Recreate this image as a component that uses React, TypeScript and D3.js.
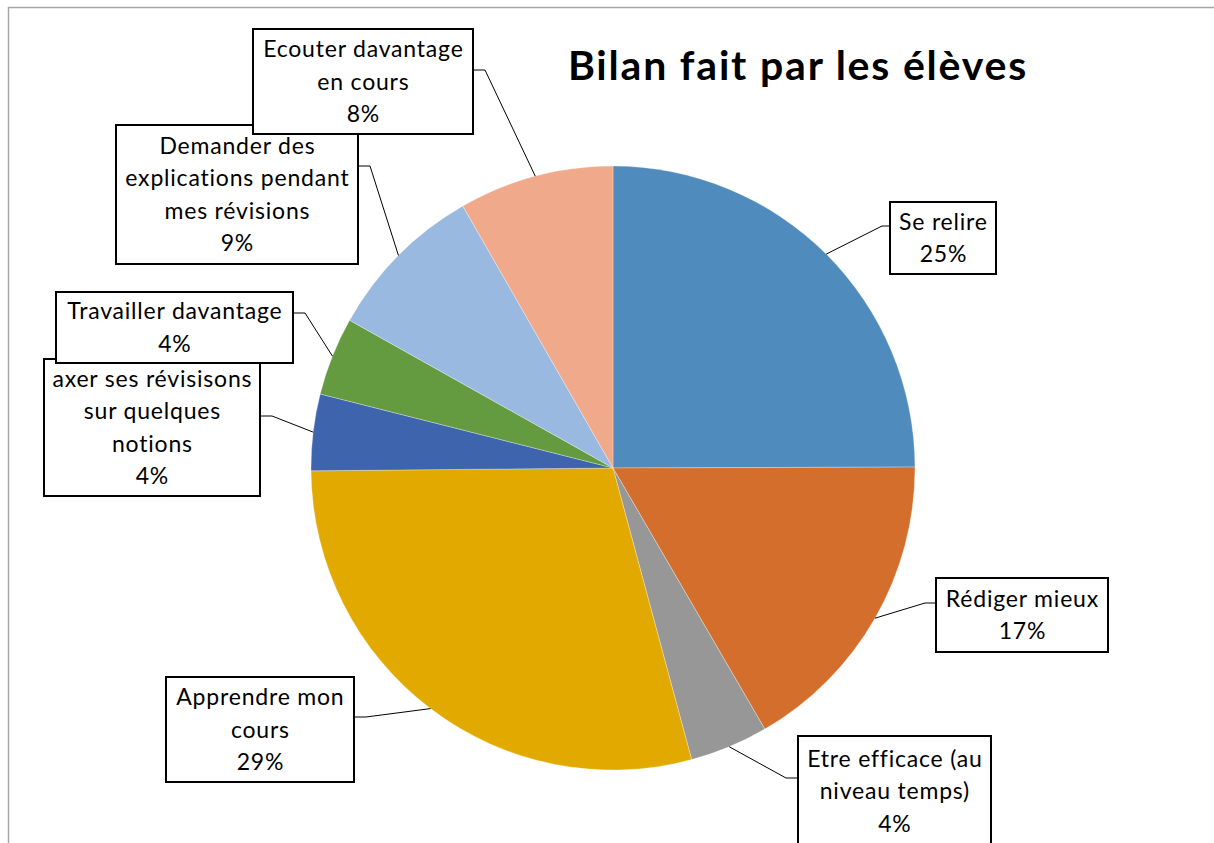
import React from "react";
import * as d3 from "d3";

const categories = [
  "Se relire",
  "Rédiger mieux",
  "Etre efficace (au niveau temps)",
  "Apprendre mon cours",
  "axer ses révisisons sur quelques notions",
  "Travailler davantage",
  "Demander des explications pendant mes révisions",
  "Ecouter davantage en cours",
];
const values = [25, 16.7, 4.2, 29.1, 4.1, 4.2, 8.6, 8.3];
const colors = ["#508BBE", "#D46E2C", "#979797", "#E2A900", "#3F64AE", "#649B41", "#9AB9E0", "#F0A98A"];
const labelLines = [
  ["Se relire"],
  ["Rédiger mieux"],
  ["Etre efficace (au", "niveau temps)"],
  ["Apprendre mon", "cours"],
  ["axer ses révisisons", "sur quelques", "notions"],
  ["Travailler davantage"],
  ["Demander des", "explications pendant", "mes révisions"],
  ["Ecouter davantage", "en cours"],
];
const title = "Bilan fait par les élèves";

// label box layout: box x,y,w,h ; leader start (sx,sy) ; elbow (ex,ey)
const layout = [
  { x: 890, y: 202, w: 106, h: 72, sx: 890, sy: 226, ex: 882, ey: 226 },
  { x: 936, y: 578, w: 172, h: 74, sx: 936, sy: 603, ex: 925, ey: 603 },
  { x: 798, y: 736, w: 193, h: 110, sx: 798, sy: 778, ex: 786, ey: 778 },
  { x: 166, y: 677, w: 188, h: 105, sx: 354, sy: 717, ex: 366, ey: 717 },
  { x: 44, y: 359, w: 216, h: 137, sx: 260, sy: 416, ex: 272, ey: 416 },
  { x: 56, y: 292, w: 237, h: 71, sx: 293, sy: 313, ex: 305, ey: 313 },
  { x: 116, y: 125, w: 242, h: 139, sx: 358, sy: 166, ex: 370, ey: 166 },
  { x: 253, y: 29, w: 220, h: 105, sx: 473, sy: 70, ex: 485, ey: 70 },
];

const cx = 613;
const cy = 468;
const R = 302;
const FONT = "Lato, 'Open Sans', sans-serif";

export default function App() {
  const total = d3.sum(values);
  const pie = d3.pie<number>().sort(null).value((d) => d);
  const arcs = pie(values);
  const arc = d3.arc<d3.PieArcDatum<number>>().innerRadius(0).outerRadius(R);

  return (
    <svg
      width={1214}
      height={843}
      style={{ position: "absolute", left: 0, top: 0, background: "#fff" }}
      fontFamily={FONT}
    >
      <rect x={0} y={0} width={1214} height={843} fill="#fff" />
      <line x1={8} y1={7.5} x2={1214} y2={7.5} stroke="#A6A6A6" strokeWidth={1.5} />
      <line x1={8.5} y1={7} x2={8.5} y2={843} stroke="#A6A6A6" strokeWidth={1.5} />
      <text x={798} y={80} textAnchor="middle" fontSize={41} fontWeight={700} letterSpacing={1.8} fill="#000">
        {title}
      </text>
      <g transform={`translate(${cx},${cy})`}>
        {arcs.map((a, i) => (
          <path key={categories[i]} d={arc(a) || ""} fill={colors[i]} stroke="#fff" strokeWidth={0.3} />
        ))}
      </g>
      {arcs.map((a, i) => {
        const L = layout[i];
        const mid = (a.startAngle + a.endAngle) / 2;
        const px = cx + R * Math.sin(mid);
        const py = cy - R * Math.cos(mid);
        return (
          <polyline
            key={"l" + i}
            points={`${L.sx},${L.sy} ${L.ex},${L.ey} ${px},${py}`}
            fill="none"
            stroke="#000"
            strokeWidth={1}
          />
        );
      })}
      {arcs.map((a, i) => {
        const L = layout[i];
        const lines = [...labelLines[i], `${Math.round((values[i] / total) * 100)}%`];
        const n = lines.length;
        const centerY = L.y + L.h / 2;
        return (
          <g key={"b" + i}>
            <rect x={L.x} y={L.y} width={L.w} height={L.h} fill="#fff" stroke="#000" strokeWidth={2} />
            {lines.map((t, j) => (
              <text
                key={j}
                x={L.x + L.w / 2 + 0.4}
                y={centerY + (j - (n - 1) / 2) * 32.5 + 8}
                textAnchor="middle"
                fontSize={23}
                letterSpacing={0.8}
                fill="#000"
              >
                {t}
              </text>
            ))}
          </g>
        );
      })}
    </svg>
  );
}
